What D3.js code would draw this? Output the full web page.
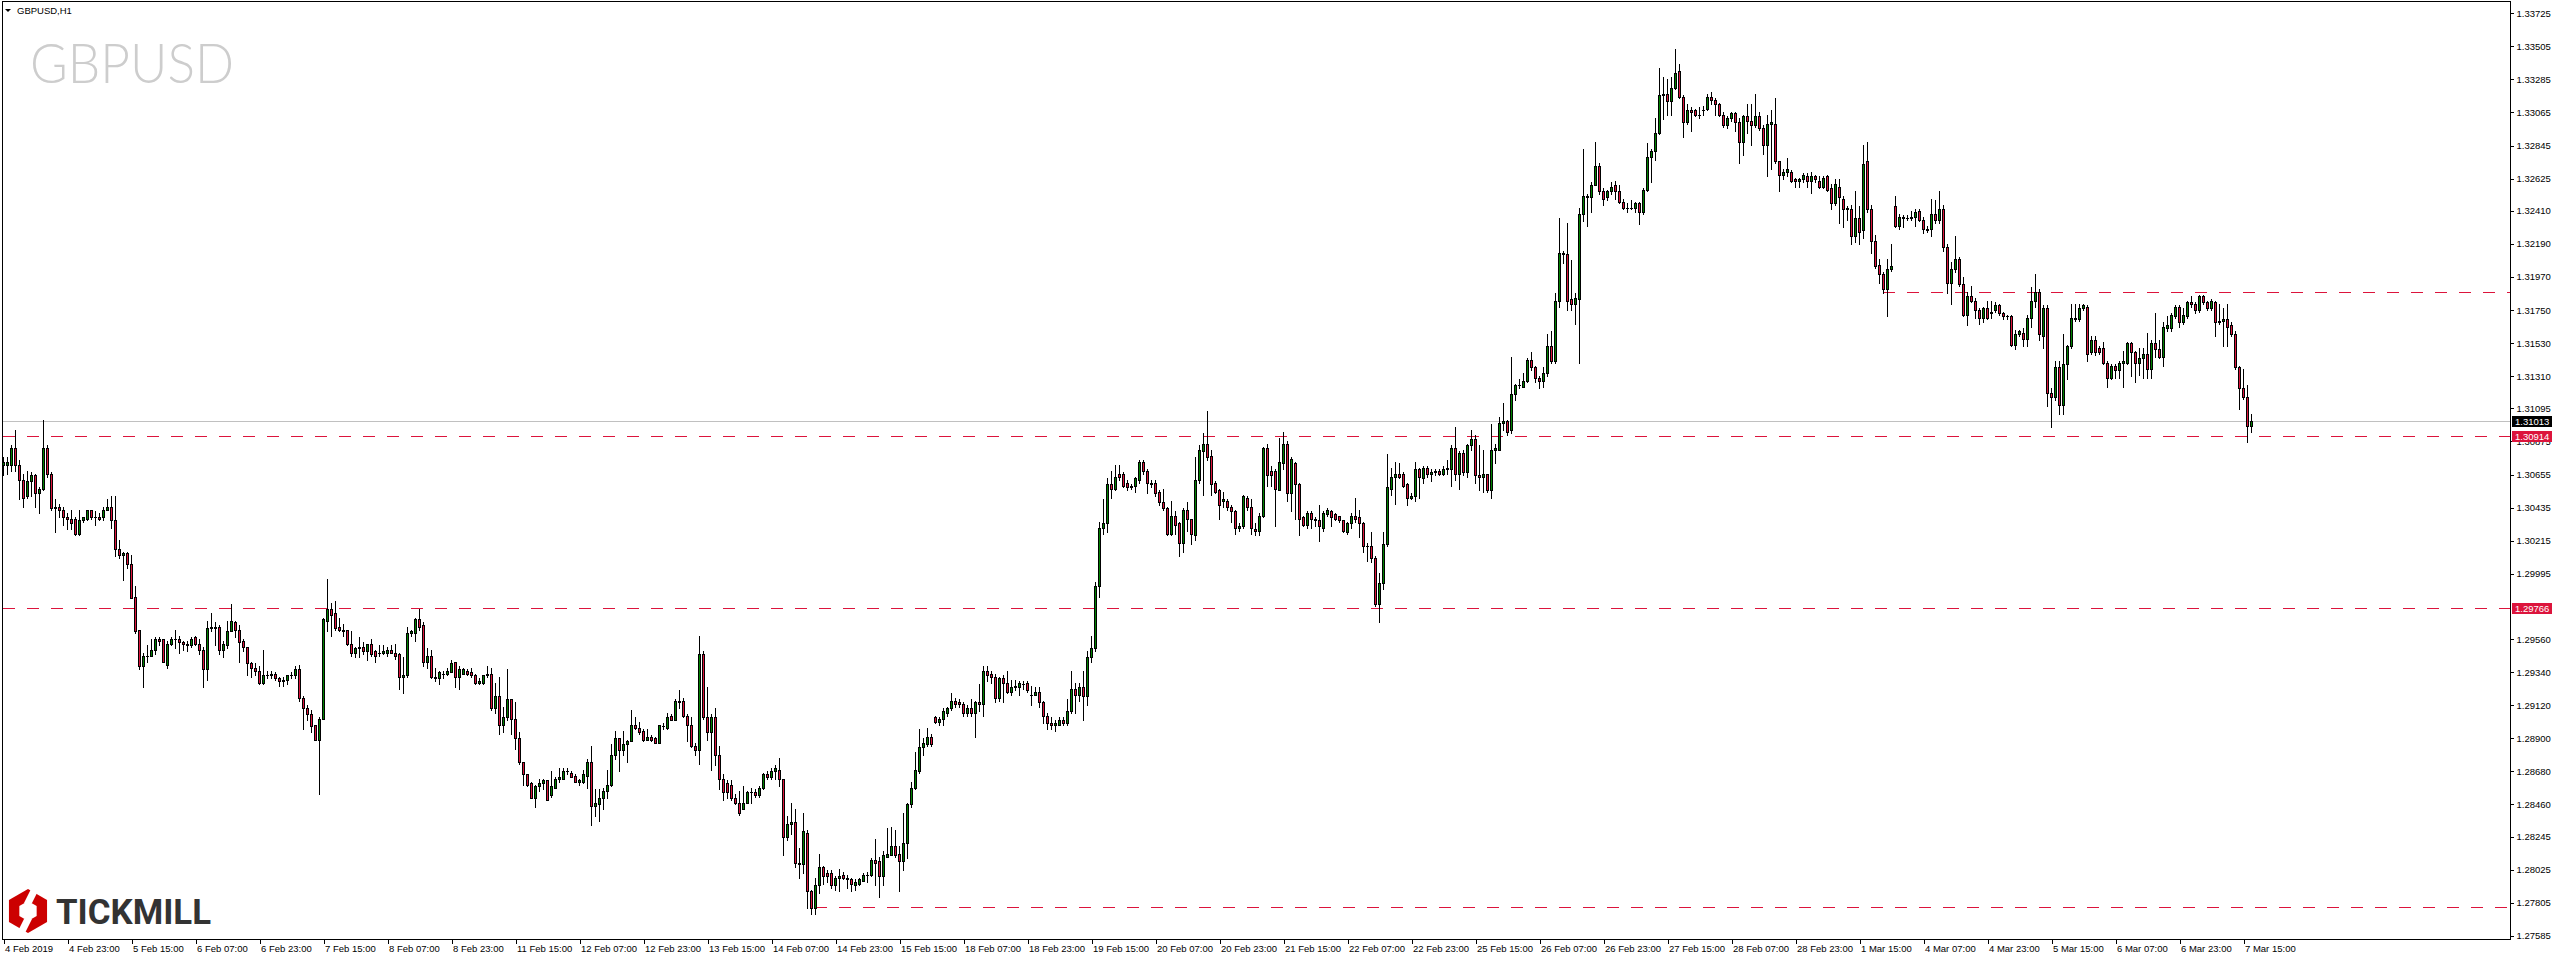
<!DOCTYPE html>
<html><head><meta charset="utf-8">
<script src="https://cdn.jsdelivr.net/npm/d3@7"></script>
<style>html,body{margin:0;padding:0;background:#fff;}svg{display:block;}</style>
</head><body>
<svg id="chart" width="2556" height="960"></svg>
<script>
// ---------- DATA (GBPUSD, H1, 4 Feb 2019 07:00 -> 7 Mar 2019) ----------
const symbolTitle = "GBPUSD,H1";
const watermark = "GBPUSD";
const opens = [
1.3072,1.3072,1.3072,1.3083,1.3072,1.3062,1.3051,1.3061,1.3065,1.3053,
1.3056,1.3083,1.3066,1.3043,1.3044,1.3042,1.3037,1.3036,1.3036,1.3026,
1.3035,1.3036,1.3042,1.3037,1.3037,1.3037,1.3042,1.3044,1.3035,1.3016,
1.3012,1.3013,1.3006,1.2984,1.2962,1.2938,1.2945,1.2945,1.2949,1.2956,
1.2956,1.2939,1.2953,1.2956,1.2956,1.2954,1.2953,1.2952,1.2957,1.2953,
1.2949,1.2936,1.2963,1.2964,1.2964,1.2949,1.2952,1.2961,1.2967,1.2962,
1.2955,1.2951,1.2940,1.2937,1.2935,1.2927,1.2932,1.2932,1.2933,1.2930,
1.2928,1.2929,1.2932,1.2932,1.2936,1.2917,1.2910,1.2906,1.2899,1.2889,
1.2903,1.2968,1.2976,1.2973,1.2964,1.2962,1.2962,1.2953,1.2947,1.2950,
1.2951,1.2948,1.2953,1.2948,1.2947,1.2947,1.2947,1.2949,1.2947,1.2946,
1.2931,1.2932,1.2960,1.2960,1.2969,1.2965,1.2941,1.2945,1.2931,1.2930,
1.2933,1.2933,1.2934,1.2941,1.2931,1.2933,1.2935,1.2934,1.2932,1.2927,
1.2927,1.2932,1.2933,1.2910,1.2918,1.2899,1.2904,1.2916,1.2903,1.2890,
1.2874,1.2866,1.2860,1.2850,1.2858,1.2860,1.2862,1.2852,1.2857,1.2863,
1.2863,1.2868,1.2867,1.2865,1.2861,1.2861,1.2865,1.2874,1.2845,1.2846,
1.2850,1.2855,1.2859,1.2879,1.2890,1.2882,1.2886,1.2888,1.2899,1.2897,
1.2895,1.2889,1.2891,1.2890,1.2887,1.2898,1.2897,1.2905,1.2902,1.2915,
1.2915,1.2905,1.2899,1.2885,1.2882,1.2946,1.2904,1.2894,1.2904,1.2879,
1.2863,1.2860,1.2859,1.2850,1.2847,1.2843,1.2847,1.2854,1.2854,1.2852,
1.2857,1.2866,1.2864,1.2868,1.2869,1.2863,1.2824,1.2833,1.2834,1.2807,
1.2806,1.2827,1.2788,1.2777,1.2792,1.2804,1.2800,1.2800,1.2792,1.2797,
1.2799,1.2797,1.2796,1.2792,1.2793,1.2795,1.2799,1.2799,1.2809,1.2808,
1.2798,1.2811,1.2812,1.2818,1.2813,1.2808,1.2820,1.2846,1.2857,1.2868,
1.2884,1.2886,1.2891,1.2904,1.2901,1.2903,1.2907,1.2910,1.2915,1.2914,
1.2913,1.2907,1.2910,1.2907,1.2914,1.2913,1.2935,1.2933,1.2931,1.2917,
1.2930,1.2927,1.2921,1.2924,1.2924,1.2926,1.2927,1.2919,1.2919,1.2921,
1.2914,1.2905,1.2900,1.2899,1.2899,1.2902,1.2900,1.2908,1.2923,1.2919,
1.2924,1.2918,1.2944,1.2950,1.2991,1.3030,1.3033,1.3059,1.3056,1.3066,
1.3066,1.3060,1.3058,1.3058,1.3062,1.3074,1.3068,1.3060,1.3060,1.3054,
1.3047,1.3043,1.3026,1.3038,1.3033,1.3020,1.3042,1.3036,1.3025,1.3062,
1.3081,1.3086,1.3078,1.3060,1.3055,1.3048,1.3048,1.3044,1.3041,1.3030,
1.3031,1.3050,1.3044,1.3029,1.3028,1.3038,1.3083,1.3068,1.3068,1.3055,
1.3073,1.3086,1.3053,1.3073,1.3059,1.3037,1.3032,1.3040,1.3036,1.3035,
1.3030,1.3039,1.3041,1.3039,1.3038,1.3035,1.3027,1.3033,1.3038,1.3037,
1.3033,1.3018,1.3018,1.3010,1.2979,1.2993,1.3019,1.3056,1.3064,1.3066,
1.3066,1.3059,1.3050,1.3051,1.3069,1.3063,1.3070,1.3066,1.3067,1.3068,
1.3066,1.3069,1.3069,1.3083,1.3066,1.3080,1.3067,1.3085,1.3089,1.3065,
1.3064,1.3066,1.3055,1.3082,1.3082,1.3100,1.3101,1.3095,1.3119,1.3125,
1.3124,1.3128,1.3142,1.3137,1.3130,1.3128,1.3133,1.3151,1.3141,1.3181,
1.3213,1.3212,1.3182,1.3179,1.3182,1.3239,1.3250,1.3250,1.3258,1.3271,
1.3254,1.3250,1.3254,1.3258,1.3254,1.3247,1.3243,1.3243,1.3243,1.3246,
1.3240,1.3255,1.3277,1.3281,1.3293,1.3318,1.3319,1.3314,1.3323,1.3334,
1.3317,1.3300,1.3308,1.3308,1.3305,1.3308,1.3309,1.3317,1.3315,1.3312,
1.3305,1.3298,1.3303,1.3306,1.3300,1.3287,1.3304,1.3301,1.3298,1.3304,
1.3296,1.3285,1.3299,1.3299,1.3274,1.3265,1.3267,1.3267,1.3262,1.3261,
1.3262,1.3264,1.3261,1.3264,1.3261,1.3257,1.3264,1.3256,1.3246,1.3257,
1.3249,1.3242,1.3242,1.3224,1.3236,1.3228,1.3274,1.3242,1.3221,1.3205,
1.3199,1.3189,1.3202,1.3244,1.3231,1.3237,1.3236,1.3236,1.3237,1.3241,
1.3235,1.3229,1.3229,1.3239,1.3235,1.3242,1.3217,1.3193,1.3202,1.3209,
1.3192,1.3172,1.3184,1.3181,1.3175,1.3170,1.3176,1.3173,1.3175,1.3178,
1.3173,1.3171,1.3171,1.3152,1.3159,1.3160,1.3156,1.3170,1.3181,1.3187,
1.3158,1.3176,1.3120,1.3117,1.3137,1.3112,1.3139,1.3151,1.3170,1.3169,
1.3176,1.3177,1.3147,1.3155,1.3150,1.3150,1.3140,1.3130,1.3138,1.3135,
1.3140,1.3140,1.3153,1.3147,1.3140,1.3143,1.3146,1.3136,1.3153,1.3149,
1.3144,1.3163,1.3163,1.3171,1.3177,1.3167,1.3171,1.3180,1.3179,1.3175,
1.3184,1.3180,1.3176,1.3180,1.3167,1.3168,1.3169,1.3165,1.3159,1.3137,
1.3123,1.3117,1.3098];
const highs = [
1.3077,1.3077,1.3085,1.3095,1.3075,1.3066,1.3068,1.3067,1.3066,1.3057,
1.3102,1.3085,1.3067,1.3049,1.3046,1.3044,1.3040,1.3042,1.3037,1.3042,
1.3037,1.3042,1.3042,1.3041,1.3040,1.3044,1.3049,1.3051,1.3051,1.3022,
1.3014,1.3014,1.3012,1.2991,1.2962,1.2947,1.2952,1.2956,1.2957,1.2957,
1.2956,1.2955,1.2957,1.2962,1.2958,1.2955,1.2955,1.2957,1.2958,1.2956,
1.2951,1.2968,1.2973,1.2967,1.2965,1.2955,1.2968,1.2979,1.2968,1.2965,
1.2956,1.2951,1.2941,1.2940,1.2938,1.2949,1.2935,1.2935,1.2934,1.2931,
1.2931,1.2932,1.2934,1.2938,1.2939,1.2918,1.2912,1.2909,1.2899,1.2904,
1.2970,1.2996,1.2980,1.2981,1.2970,1.2966,1.2962,1.2961,1.2951,1.2957,
1.2954,1.2953,1.2956,1.2949,1.2952,1.2952,1.2951,1.2952,1.2953,1.2947,
1.2944,1.2964,1.2962,1.2970,1.2976,1.2967,1.2950,1.2949,1.2937,1.2935,
1.2935,1.2937,1.2942,1.2941,1.2938,1.2937,1.2936,1.2937,1.2933,1.2930,
1.2932,1.2938,1.2937,1.2927,1.2931,1.2911,1.2936,1.2916,1.2914,1.2894,
1.2874,1.2866,1.2861,1.2859,1.2863,1.2863,1.2862,1.2868,1.2864,1.2870,
1.2870,1.2870,1.2868,1.2866,1.2863,1.2869,1.2876,1.2885,1.2856,1.2856,
1.2857,1.2869,1.2886,1.2895,1.2890,1.2895,1.2889,1.2909,1.2904,1.2901,
1.2896,1.2896,1.2892,1.2891,1.2899,1.2900,1.2907,1.2906,1.2916,1.2922,
1.2917,1.2906,1.2904,1.2887,1.2958,1.2948,1.2924,1.2906,1.2910,1.2885,
1.2866,1.2862,1.2862,1.2853,1.2855,1.2858,1.2855,1.2857,1.2856,1.2858,
1.2867,1.2868,1.2870,1.2872,1.2877,1.2863,1.2838,1.2847,1.2843,1.2817,
1.2840,1.2829,1.2789,1.2797,1.2813,1.2805,1.2802,1.2802,1.2798,1.2803,
1.2801,1.2799,1.2797,1.2796,1.2797,1.2800,1.2801,1.2810,1.2823,1.2811,
1.2815,1.2830,1.2831,1.2829,1.2818,1.2840,1.2847,1.2861,1.2881,1.2896,
1.2890,1.2897,1.2893,1.2905,1.2904,1.2910,1.2911,1.2920,1.2917,1.2916,
1.2914,1.2912,1.2916,1.2915,1.2926,1.2938,1.2938,1.2935,1.2933,1.2931,
1.2932,1.2935,1.2929,1.2929,1.2928,1.2928,1.2928,1.2925,1.2924,1.2924,
1.2915,1.2907,1.2904,1.2902,1.2904,1.2904,1.2916,1.2935,1.2927,1.2927,
1.2935,1.2948,1.2958,1.2994,1.3034,1.3049,1.3063,1.3068,1.3072,1.3072,
1.3067,1.3062,1.3059,1.3064,1.3075,1.3075,1.3069,1.3062,1.3062,1.3055,
1.3056,1.3044,1.3048,1.3041,1.3034,1.3043,1.3047,1.3036,1.3077,1.3085,
1.3093,1.3108,1.3082,1.3061,1.3056,1.3054,1.3049,1.3045,1.3042,1.3033,
1.3052,1.3051,1.3049,1.3033,1.3040,1.3084,1.3086,1.3071,1.3069,1.3090,
1.3094,1.3088,1.3077,1.3074,1.3060,1.3038,1.3041,1.3041,1.3037,1.3045,
1.3041,1.3043,1.3042,1.3040,1.3038,1.3035,1.3034,1.3040,1.3050,1.3042,
1.3034,1.3020,1.3027,1.3011,1.3000,1.3027,1.3079,1.3070,1.3074,1.3073,
1.3067,1.3060,1.3053,1.3074,1.3070,1.3071,1.3071,1.3069,1.3069,1.3069,
1.3071,1.3075,1.3085,1.3097,1.3081,1.3082,1.3086,1.3095,1.3092,1.3085,
1.3082,1.3066,1.3099,1.3086,1.3104,1.3113,1.3102,1.3144,1.3126,1.3129,
1.3133,1.3143,1.3147,1.3138,1.3131,1.3137,1.3159,1.3161,1.3186,1.3236,
1.3214,1.3233,1.3208,1.3186,1.3243,1.3282,1.3252,1.3260,1.3287,1.3273,
1.3256,1.3255,1.3260,1.3261,1.3258,1.3249,1.3246,1.3248,1.3247,1.3247,
1.3256,1.3286,1.3282,1.3303,1.3336,1.3330,1.3329,1.3330,1.3349,1.3339,
1.3318,1.3312,1.3310,1.3309,1.3310,1.3311,1.3319,1.3320,1.3316,1.3313,
1.3307,1.3304,1.3307,1.3307,1.3303,1.3305,1.3312,1.3312,1.3319,1.3307,
1.3298,1.3305,1.3308,1.3316,1.3274,1.3269,1.3276,1.3268,1.3263,1.3263,
1.3266,1.3266,1.3267,1.3265,1.3264,1.3264,1.3265,1.3259,1.3262,1.3262,
1.3251,1.3244,1.3245,1.3254,1.3244,1.3285,1.3287,1.3245,1.3225,1.3209,
1.3200,1.3209,1.3219,1.3251,1.3239,1.3238,1.3238,1.3241,1.3242,1.3242,
1.3237,1.3231,1.3249,1.3248,1.3254,1.3245,1.3219,1.3207,1.3224,1.3210,
1.3197,1.3187,1.3191,1.3183,1.3176,1.3177,1.3181,1.3181,1.3180,1.3179,
1.3174,1.3172,1.3172,1.3162,1.3162,1.3163,1.3172,1.3190,1.3199,1.3189,
1.3178,1.3178,1.3123,1.3141,1.3141,1.3159,1.3152,1.3179,1.3179,1.3179,
1.3179,1.3178,1.3158,1.3158,1.3151,1.3154,1.3141,1.3139,1.3139,1.3141,
1.3148,1.3154,1.3154,1.3148,1.3150,1.3150,1.3160,1.3155,1.3173,1.3155,
1.3167,1.3171,1.3173,1.3178,1.3178,1.3176,1.3181,1.3184,1.3180,1.3185,
1.3185,1.3181,1.3182,1.3181,1.3179,1.3176,1.3179,1.3167,1.3161,1.3138,
1.3136,1.3125,1.3106];
const lows = [
1.3065,1.3066,1.3068,1.3068,1.3049,1.3044,1.3050,1.3051,1.3044,1.3040,
1.3055,1.3064,1.3042,1.3027,1.3037,1.3032,1.3029,1.3029,1.3025,1.3025,
1.3034,1.3035,1.3036,1.3032,1.3035,1.3035,1.3042,1.3030,1.3011,1.3010,
1.2995,1.3003,1.2983,1.2960,1.2936,1.2924,1.2941,1.2945,1.2946,1.2952,
1.2941,1.2937,1.2952,1.2950,1.2947,1.2949,1.2948,1.2951,1.2952,1.2946,
1.2924,1.2929,1.2961,1.2952,1.2946,1.2944,1.2950,1.2961,1.2957,1.2941,
1.2948,1.2932,1.2931,1.2932,1.2926,1.2926,1.2930,1.2930,1.2929,1.2925,
1.2925,1.2926,1.2930,1.2930,1.2915,1.2896,1.2902,1.2894,1.2889,1.2853,
1.2903,1.2961,1.2958,1.2962,1.2961,1.2958,1.2952,1.2945,1.2944,1.2944,
1.2946,1.2942,1.2945,1.2941,1.2945,1.2946,1.2945,1.2947,1.2943,1.2923,
1.2920,1.2931,1.2958,1.2955,1.2962,1.2938,1.2937,1.2930,1.2928,1.2926,
1.2930,1.2932,1.2934,1.2924,1.2923,1.2933,1.2932,1.2931,1.2926,1.2926,
1.2926,1.2931,1.2909,1.2907,1.2893,1.2894,1.2902,1.2893,1.2883,1.2873,
1.2859,1.2858,1.2850,1.2844,1.2855,1.2856,1.2849,1.2851,1.2857,1.2861,
1.2863,1.2866,1.2864,1.2861,1.2859,1.2860,1.2857,1.2832,1.2838,1.2835,
1.2843,1.2850,1.2858,1.2876,1.2868,1.2879,1.2874,1.2888,1.2896,1.2893,
1.2888,1.2889,1.2888,1.2887,1.2887,1.2896,1.2896,1.2902,1.2902,1.2910,
1.2904,1.2888,1.2884,1.2879,1.2873,1.2903,1.2889,1.2869,1.2872,1.2856,
1.2849,1.2850,1.2849,1.2846,1.2839,1.2843,1.2847,1.2847,1.2851,1.2851,
1.2856,1.2863,1.2863,1.2863,1.2858,1.2812,1.2822,1.2826,1.2804,1.2797,
1.2800,1.2777,1.2773,1.2773,1.2787,1.2793,1.2794,1.2790,1.2789,1.2788,
1.2796,1.2790,1.2788,1.2789,1.2792,1.2795,1.2794,1.2798,1.2792,1.2784,
1.2792,1.2811,1.2812,1.2811,1.2788,1.2802,1.2810,1.2844,1.2856,1.2867,
1.2879,1.2885,1.2885,1.2900,1.2899,1.2899,1.2905,1.2909,1.2911,1.2911,
1.2905,1.2905,1.2905,1.2891,1.2908,1.2905,1.2928,1.2927,1.2914,1.2915,
1.2914,1.2920,1.2919,1.2922,1.2919,1.2923,1.2921,1.2912,1.2919,1.2911,
1.2900,1.2896,1.2896,1.2895,1.2899,1.2899,1.2899,1.2907,1.2907,1.2915,
1.2902,1.2912,1.2941,1.2948,1.2984,1.3026,1.3027,1.3050,1.3055,1.3062,
1.3057,1.3055,1.3056,1.3054,1.3060,1.3066,1.3053,1.3057,1.3051,1.3045,
1.3042,1.3025,1.3025,1.3026,1.3011,1.3014,1.3028,1.3019,1.3022,1.3060,
1.3052,1.3075,1.3052,1.3053,1.3036,1.3044,1.3042,1.3034,1.3026,1.3028,
1.3030,1.3042,1.3026,1.3025,1.3025,1.3037,1.3058,1.3058,1.3031,1.3055,
1.3069,1.3048,1.3041,1.3036,1.3025,1.3031,1.3030,1.3030,1.3031,1.3021,
1.3028,1.3038,1.3031,1.3035,1.3034,1.3027,1.3026,1.3030,1.3034,1.3024,
1.3014,1.3008,1.3007,1.2978,1.2967,1.2989,1.3018,1.3052,1.3046,1.3063,
1.3057,1.3045,1.3049,1.3048,1.3050,1.3060,1.3064,1.3061,1.3065,1.3065,
1.3065,1.3066,1.3058,1.3062,1.3056,1.3065,1.3064,1.3082,1.3060,1.3055,
1.3054,1.3054,1.3050,1.3073,1.3082,1.3095,1.3092,1.3093,1.3115,1.3123,
1.3124,1.3127,1.3135,1.3127,1.3123,1.3124,1.3131,1.3140,1.3140,1.3177,
1.3206,1.3175,1.3175,1.3166,1.3140,1.3234,1.3231,1.3240,1.3258,1.3252,
1.3245,1.3248,1.3252,1.3249,1.3246,1.3242,1.3240,1.3242,1.3240,1.3232,
1.3239,1.3254,1.3260,1.3275,1.3292,1.3302,1.3305,1.3305,1.3322,1.3316,
1.3290,1.3299,1.3294,1.3304,1.3303,1.3305,1.3308,1.3312,1.3305,1.3304,
1.3297,1.3296,1.3301,1.3294,1.3273,1.3278,1.3293,1.3285,1.3297,1.3295,
1.3279,1.3264,1.3269,1.3273,1.3254,1.3262,1.3264,1.3260,1.3257,1.3257,
1.3260,1.3257,1.3253,1.3260,1.3256,1.3256,1.3254,1.3242,1.3245,1.3233,
1.3230,1.3235,1.3219,1.3220,1.3219,1.3223,1.3240,1.3213,1.3203,1.3193,
1.3186,1.3171,1.3201,1.3230,1.3229,1.3230,1.3235,1.3235,1.3231,1.3234,
1.3226,1.3227,1.3224,1.3233,1.3233,1.3214,1.3186,1.3179,1.3200,1.3191,
1.3171,1.3165,1.3180,1.3170,1.3166,1.3167,1.3169,1.3170,1.3174,1.3172,
1.3169,1.3169,1.3151,1.3149,1.3158,1.3151,1.3151,1.3164,1.3177,1.3155,
1.3150,1.3111,1.3097,1.3115,1.3106,1.3106,1.3129,1.3150,1.3168,1.3168,
1.3175,1.3141,1.3146,1.3145,1.3146,1.3139,1.3124,1.3129,1.3130,1.3130,
1.3124,1.3139,1.3131,1.3127,1.3132,1.3130,1.3130,1.3130,1.3144,1.3143,
1.3138,1.3161,1.3161,1.3170,1.3164,1.3166,1.3170,1.3177,1.3173,1.3174,
1.3179,1.3175,1.3175,1.3158,1.3166,1.3151,1.3151,1.3158,1.3136,1.3109,
1.3116,1.3087,1.3094];
const closes = [
1.3074,1.3074,1.3083,1.3072,1.3062,1.3050,1.3061,1.3065,1.3053,1.3056,
1.3083,1.3066,1.3043,1.3044,1.3042,1.3037,1.3036,1.3033,1.3026,1.3035,
1.3037,1.3042,1.3037,1.3037,1.3036,1.3042,1.3044,1.3035,1.3016,1.3012,
1.3013,1.3006,1.2983,1.2961,1.2938,1.2945,1.2945,1.2949,1.2956,1.2955,
1.2941,1.2953,1.2956,1.2956,1.2954,1.2953,1.2952,1.2956,1.2953,1.2949,
1.2936,1.2963,1.2964,1.2963,1.2949,1.2953,1.2961,1.2968,1.2962,1.2954,
1.2951,1.2940,1.2937,1.2935,1.2927,1.2932,1.2932,1.2933,1.2930,1.2928,
1.2929,1.2932,1.2932,1.2936,1.2917,1.2910,1.2906,1.2898,1.2889,1.2903,
1.2969,1.2976,1.2972,1.2963,1.2962,1.2961,1.2953,1.2947,1.2950,1.2951,
1.2948,1.2953,1.2946,1.2945,1.2947,1.2948,1.2949,1.2947,1.2945,1.2931,
1.2932,1.2960,1.2961,1.2969,1.2964,1.2941,1.2945,1.2931,1.2930,1.2934,
1.2933,1.2935,1.2940,1.2931,1.2936,1.2936,1.2933,1.2932,1.2927,1.2928,
1.2932,1.2933,1.2910,1.2918,1.2899,1.2904,1.2916,1.2903,1.2890,1.2874,
1.2866,1.2859,1.2850,1.2858,1.2860,1.2862,1.2849,1.2858,1.2863,1.2864,
1.2868,1.2868,1.2864,1.2861,1.2862,1.2866,1.2874,1.2845,1.2847,1.2850,
1.2855,1.2859,1.2879,1.2890,1.2882,1.2886,1.2888,1.2899,1.2897,1.2894,
1.2889,1.2891,1.2889,1.2887,1.2899,1.2898,1.2904,1.2902,1.2915,1.2914,
1.2905,1.2899,1.2885,1.2882,1.2946,1.2904,1.2894,1.2904,1.2879,1.2863,
1.2854,1.2854,1.2850,1.2847,1.2840,1.2847,1.2854,1.2854,1.2852,1.2857,
1.2866,1.2864,1.2868,1.2870,1.2863,1.2824,1.2833,1.2834,1.2807,1.2806,
1.2828,1.2788,1.2777,1.2792,1.2804,1.2798,1.2798,1.2792,1.2797,1.2798,
1.2797,1.2796,1.2793,1.2794,1.2796,1.2799,1.2799,1.2809,1.2807,1.2798,
1.2812,1.2813,1.2818,1.2812,1.2808,1.2820,1.2846,1.2857,1.2869,1.2884,
1.2887,1.2891,1.2886,1.2901,1.2903,1.2908,1.2910,1.2915,1.2913,1.2913,
1.2907,1.2910,1.2907,1.2914,1.2913,1.2935,1.2932,1.2931,1.2917,1.2930,
1.2927,1.2921,1.2924,1.2925,1.2927,1.2926,1.2922,1.2919,1.2921,1.2914,
1.2905,1.2900,1.2899,1.2900,1.2902,1.2900,1.2908,1.2923,1.2919,1.2924,
1.2918,1.2944,1.2950,1.2991,1.3030,1.3033,1.3059,1.3056,1.3064,1.3064,
1.3058,1.3057,1.3057,1.3063,1.3074,1.3068,1.3060,1.3059,1.3053,1.3047,
1.3043,1.3026,1.3038,1.3032,1.3020,1.3042,1.3036,1.3026,1.3062,1.3082,
1.3086,1.3077,1.3059,1.3054,1.3045,1.3049,1.3044,1.3041,1.3030,1.3031,
1.3051,1.3044,1.3030,1.3028,1.3038,1.3083,1.3065,1.3065,1.3056,1.3074,
1.3086,1.3053,1.3076,1.3059,1.3036,1.3032,1.3040,1.3036,1.3035,1.3031,
1.3040,1.3042,1.3037,1.3036,1.3035,1.3028,1.3033,1.3038,1.3036,1.3033,
1.3018,1.3018,1.3010,1.2979,1.2993,1.3019,1.3057,1.3064,1.3066,1.3064,
1.3058,1.3050,1.3051,1.3069,1.3064,1.3070,1.3066,1.3067,1.3068,1.3066,
1.3069,1.3070,1.3083,1.3066,1.3080,1.3067,1.3085,1.3089,1.3065,1.3064,
1.3066,1.3055,1.3082,1.3083,1.3100,1.3101,1.3094,1.3119,1.3125,1.3125,
1.3128,1.3142,1.3137,1.3130,1.3128,1.3133,1.3151,1.3141,1.3181,1.3213,
1.3212,1.3181,1.3179,1.3183,1.3239,1.3251,1.3251,1.3258,1.3271,1.3254,
1.3249,1.3254,1.3257,1.3254,1.3247,1.3243,1.3243,1.3243,1.3246,1.3240,
1.3255,1.3277,1.3281,1.3293,1.3318,1.3319,1.3314,1.3323,1.3333,1.3317,
1.3300,1.3308,1.3307,1.3305,1.3305,1.3308,1.3317,1.3315,1.3312,1.3305,
1.3298,1.3303,1.3306,1.3300,1.3287,1.3304,1.3301,1.3298,1.3304,1.3296,
1.3285,1.3299,1.3300,1.3274,1.3265,1.3267,1.3269,1.3261,1.3261,1.3262,
1.3265,1.3261,1.3264,1.3262,1.3257,1.3263,1.3255,1.3246,1.3259,1.3250,
1.3242,1.3243,1.3224,1.3236,1.3227,1.3272,1.3242,1.3221,1.3204,1.3199,
1.3189,1.3202,1.3204,1.3231,1.3237,1.3236,1.3236,1.3237,1.3240,1.3235,
1.3229,1.3228,1.3239,1.3235,1.3242,1.3217,1.3193,1.3202,1.3209,1.3192,
1.3172,1.3184,1.3181,1.3175,1.3170,1.3176,1.3170,1.3174,1.3178,1.3173,
1.3171,1.3171,1.3152,1.3159,1.3161,1.3156,1.3170,1.3181,1.3187,1.3159,
1.3176,1.3120,1.3117,1.3137,1.3112,1.3139,1.3151,1.3170,1.3169,1.3176,
1.3178,1.3146,1.3155,1.3147,1.3147,1.3140,1.3130,1.3138,1.3135,1.3140,
1.3141,1.3153,1.3147,1.3140,1.3143,1.3146,1.3136,1.3153,1.3149,1.3144,
1.3164,1.3165,1.3172,1.3177,1.3167,1.3172,1.3180,1.3179,1.3175,1.3184,
1.3180,1.3176,1.3181,1.3167,1.3168,1.3169,1.3164,1.3159,1.3137,1.3123,
1.3117,1.3098,1.31013];

const priceTicks = [1.33725,1.33505,1.33285,1.33065,1.32845,1.32625,1.32410,1.32190,1.31970,1.31750,
  1.31530,1.31310,1.31095,1.30875,1.30655,1.30435,1.30215,1.29995,1.29560,1.29340,1.29120,
  1.28900,1.28680,1.28460,1.28245,1.28025,1.27805,1.27585];
const timeLabels = ["4 Feb 2019","4 Feb 23:00","5 Feb 15:00","6 Feb 07:00","6 Feb 23:00","7 Feb 15:00",
  "8 Feb 07:00","8 Feb 23:00","11 Feb 15:00","12 Feb 07:00","12 Feb 23:00","13 Feb 15:00","14 Feb 07:00",
  "14 Feb 23:00","15 Feb 15:00","18 Feb 07:00","18 Feb 23:00","19 Feb 15:00","20 Feb 07:00","20 Feb 23:00",
  "21 Feb 15:00","22 Feb 07:00","22 Feb 23:00","25 Feb 15:00","26 Feb 07:00","26 Feb 23:00","27 Feb 15:00",
  "28 Feb 07:00","28 Feb 23:00","1 Mar 15:00","4 Mar 07:00","4 Mar 23:00","5 Mar 15:00","6 Mar 07:00",
  "6 Mar 23:00","7 Mar 15:00"];
const barsPerLabel = 16;
const bidPrice = 1.31013;                 // current price line (grey)
const fullLevels = [1.30914, 1.29766];    // red dashed, full width, labelled
const partialLevels = [1.31870, 1.27775]; // red dashed, start at a bar
const partialStartBars = [470, 203];

// ---------- LAYOUT ----------
const W = 2556, H = 960;
const plot = {left: 2, top: 1, right: 2510, bottom: 939};
const FONT = "'Liberation Sans', Arial, sans-serif";
const BULL = "#008000", BEAR = "#dc143c", LEVEL = "#dc143c";

const svg = d3.select("#chart");
const N = closes.length;
const x = d3.scaleLinear().domain([0, N - 1]).range([3, 3 + 4 * (N - 1)]);
const y = d3.scaleLinear().domain([1.27585, 1.33725]).range([935.7, 13.3]);

svg.append("rect").attr("width", W).attr("height", H).attr("fill", "#fff");
svg.append("clipPath").attr("id", "clip").append("rect")
  .attr("x", plot.left + 1).attr("y", plot.top + 1)
  .attr("width", plot.right - plot.left - 1).attr("height", plot.bottom - plot.top - 1);

// watermark
svg.append("text").attr("x", 30).attr("y", 83).text(watermark)
  .attr("font-family", "Lato, 'Open Sans', sans-serif").attr("font-weight", 300)
  .attr("font-size", 55).attr("fill", "#cdcdcd")
  .attr("textLength", 204).attr("lengthAdjust", "spacingAndGlyphs");

const pg = svg.append("g").attr("clip-path", "url(#clip)");

// level lines
pg.append("line").attr("x1", plot.left).attr("x2", plot.right)
  .attr("y1", Math.round(y(bidPrice)) + 0.5).attr("y2", Math.round(y(bidPrice)) + 0.5)
  .attr("stroke", "#c0c0c0").attr("stroke-width", 1);
fullLevels.forEach(p => {
  pg.append("line").attr("x1", plot.left + 1).attr("x2", plot.right)
    .attr("y1", Math.round(y(p)) + 0.5).attr("y2", Math.round(y(p)) + 0.5)
    .attr("stroke", LEVEL).attr("stroke-width", 1).attr("stroke-dasharray", "12,12");
});
partialLevels.forEach((p, k) => {
  pg.append("line").attr("x1", x(partialStartBars[k])).attr("x2", plot.right)
    .attr("y1", Math.round(y(p)) + 0.5).attr("y2", Math.round(y(p)) + 0.5)
    .attr("stroke", LEVEL).attr("stroke-width", 1).attr("stroke-dasharray", "12,12");
});

// candles
const cg = pg.append("g").attr("shape-rendering", "crispEdges");
const bars = d3.range(N).map(i => ({i, o: opens[i], h: highs[i], l: lows[i], c: closes[i]}));
const sel = cg.selectAll("g.bar").data(bars).join("g").attr("class", "bar");
sel.append("rect") // wick
  .attr("x", d => Math.round(x(d.i)))
  .attr("y", d => Math.round(y(Math.max(d.h, d.o, d.c))))
  .attr("width", 1)
  .attr("height", d => Math.max(1, Math.round(y(Math.min(d.l, d.o, d.c))) - Math.round(y(Math.max(d.h, d.o, d.c))) + 1))
  .attr("fill", "#000");
sel.append("rect") // body outline
  .attr("x", d => Math.round(x(d.i)) - 1)
  .attr("y", d => Math.round(y(Math.max(d.o, d.c))))
  .attr("width", 3)
  .attr("height", d => Math.max(1, Math.round(y(Math.min(d.o, d.c))) - Math.round(y(Math.max(d.o, d.c))) + 1))
  .attr("fill", "#000");
sel.filter(d => Math.round(y(Math.min(d.o, d.c))) - Math.round(y(Math.max(d.o, d.c))) >= 2)
  .append("rect") // body fill
  .attr("x", d => Math.round(x(d.i)))
  .attr("y", d => Math.round(y(Math.max(d.o, d.c))) + 1)
  .attr("width", 1)
  .attr("height", d => Math.round(y(Math.min(d.o, d.c))) - Math.round(y(Math.max(d.o, d.c))) - 1)
  .attr("fill", d => d.c >= d.o ? BULL : BEAR);

// frame
svg.append("rect").attr("x", plot.left + 0.5).attr("y", plot.top + 0.5)
  .attr("width", plot.right - plot.left).attr("height", plot.bottom - plot.top)
  .attr("fill", "none").attr("stroke", "#000").attr("stroke-width", 1).attr("shape-rendering", "crispEdges");

// title
svg.append("path").attr("d", "M5,9 L11,9 L8,12 Z").attr("fill", "#000");
svg.append("text").attr("x", 17).attr("y", 14).text(symbolTitle)
  .attr("font-family", FONT).attr("font-size", 9.5).attr("fill", "#000");

// price axis
const yAxis = d3.axisRight(y).tickValues(priceTicks).tickSize(3).tickSizeOuter(0).tickPadding(3)
  .tickFormat(d3.format(".5f"));
const ya = svg.append("g").attr("transform", `translate(${plot.right + 0.5},0)`).call(yAxis);
ya.select(".domain").remove();
ya.selectAll(".tick line").attr("stroke", "#000").attr("shape-rendering", "crispEdges");
ya.selectAll(".tick text").attr("font-family", FONT).attr("font-size", 9.5).attr("fill", "#000");

// time axis
const labelBars = timeLabels.map((_, k) => k * barsPerLabel);
const xAxis = d3.axisBottom(x).tickValues(labelBars).tickSize(4).tickSizeOuter(0)
  .tickFormat((d, k) => timeLabels[k]);
const xa = svg.append("g").attr("transform", `translate(0.5,${plot.bottom + 0.5})`).call(xAxis);
xa.select(".domain").remove();
xa.selectAll(".tick line").attr("stroke", "#000").attr("shape-rendering", "crispEdges");
xa.selectAll(".tick text").attr("font-family", FONT).attr("font-size", 9.5).attr("fill", "#000")
  .attr("text-anchor", "start").attr("x", 1).attr("y", 6).attr("dy", "0.71em");

// price labels
function priceTag(p, fill) {
  const yy = Math.round(y(p));
  svg.append("rect").attr("x", plot.right + 2).attr("y", yy - 5).attr("width", 40).attr("height", 11)
    .attr("fill", fill).attr("shape-rendering", "crispEdges");
  svg.append("text").attr("x", plot.right + 5).attr("y", yy + 0.5).attr("dy", "0.35em")
    .text(d3.format(".5f")(p)).attr("font-family", FONT).attr("font-size", 9.5).attr("fill", "#fff");
}
priceTag(bidPrice, "#000");
fullLevels.forEach(p => priceTag(p, LEVEL));

// Tickmill logo
const lg = svg.append("g");
const hx = 28, hy = 911, hr = 22;
const hex = r => d3.range(6).map(k => {
  const a = Math.PI / 3 * k - Math.PI / 2;
  return [hx + r * Math.cos(a), hy + r * Math.sin(a)];
});
lg.append("path").attr("d", "M" + hex(hr).join("L") + "Z").attr("fill", "#cc0000");
lg.append("path").attr("d", "M" + hex(10).join("L") + "Z").attr("fill", "#fff");
lg.append("path").attr("d", `M${hx + 4},${hy - 24} L${hx + 12},${hy - 24} L${hx + 4},${hy - 8} L${hx - 4},${hy - 8} Z`).attr("fill", "#fff");
lg.append("path").attr("d", `M${hx - 4},${hy + 8} L${hx + 4},${hy + 8} L${hx - 4},${hy + 24} L${hx - 12},${hy + 24} Z`).attr("fill", "#fff");
lg.append("text").attr("x", 56).attr("y", 924).text("TICKMILL")
  .attr("font-family", "Roboto, 'Liberation Sans', sans-serif").attr("font-weight", 700)
  .attr("font-size", 35).attr("fill", "#333")
  .attr("textLength", 155).attr("lengthAdjust", "spacingAndGlyphs");
</script>
</body></html>
